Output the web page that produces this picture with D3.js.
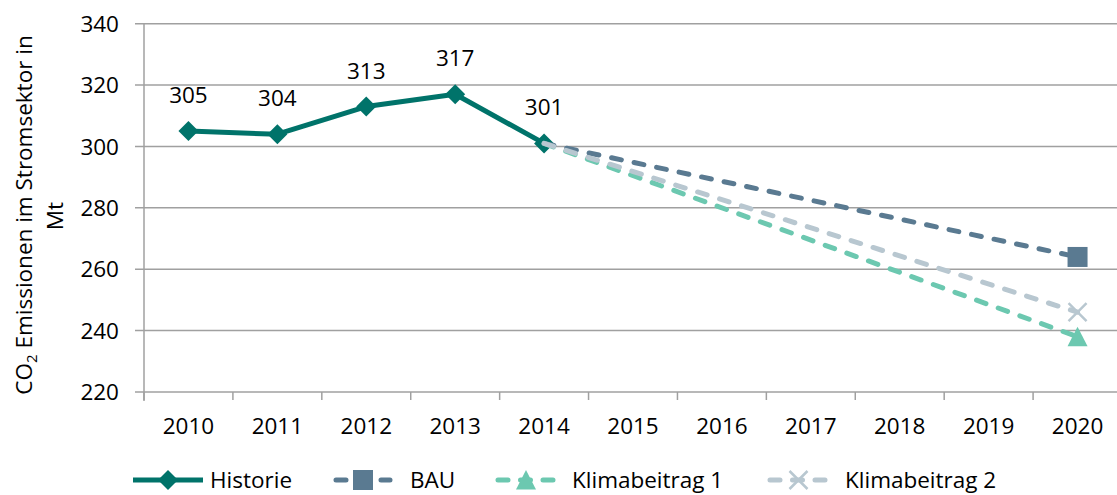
<!DOCTYPE html>
<html><head><meta charset="utf-8">
<script src="https://cdn.jsdelivr.net/npm/d3@7"></script>
<style>
body{margin:0;background:#fff;}
text{font-family:"Open Sans",Lato,sans-serif;fill:#000;}
</style></head>
<body><svg id="c" width="1117" height="495"></svg>
<script>
const years = ["2010","2011","2012","2013","2014","2015","2016","2017","2018","2019","2020"];
const historie = [305,304,313,317,301,null,null,null,null,null,null];
const bau = [null,null,null,null,301,null,null,null,null,null,264];
const klima1 = [null,null,null,null,301,null,null,null,null,null,238];
const klima2 = [null,null,null,null,301,null,null,null,null,null,246];
const yTicks = [220,240,260,280,300,320,340];
const seriesNames = ["Historie","BAU","Klimabeitrag 1","Klimabeitrag 2"];
const colors = ["#00736A","#5A7A91","#6CC8B0","#B8C7D0"];

const FS = 22.5;
const svg = d3.select("#c");
const x = d3.scaleBand().domain(years).range([144,1122]);
const y = d3.scaleLinear().domain([220,340]).range([392,23.7]);

// gridlines
svg.append("g").selectAll("line").data(yTicks).join("line")
  .attr("x1",135).attr("x2",1122).attr("y1",d=>y(d)).attr("y2",d=>y(d))
  .attr("stroke","#A0A0A0").attr("stroke-width",1.5);
// y axis line
svg.append("line").attr("x1",144).attr("x2",144).attr("y1",y(340)).attr("y2",y(220)+9)
  .attr("stroke","#A0A0A0").attr("stroke-width",1.5);
// x ticks
const xt = years.map(d=>x(d)).concat([x.range()[1]]);
svg.append("g").selectAll("line").data(xt).join("line")
  .attr("x1",d=>d).attr("x2",d=>d).attr("y1",y(220)).attr("y2",y(220)+8)
  .attr("stroke","#A0A0A0").attr("stroke-width",1.5);
// y tick labels
svg.append("g").selectAll("text").data(yTicks).join("text")
  .attr("x",119).attr("y",d=>y(d)).attr("dy","0.36em").attr("text-anchor","end")
  .attr("font-size",FS).text(d=>d);
// x labels
svg.append("g").selectAll("text").data(years).join("text")
  .attr("x",d=>x(d)+x.bandwidth()/2).attr("y",426).attr("dy","0.36em").attr("text-anchor","middle")
  .attr("font-size",FS).text(d=>d);
// y title
const yt = svg.append("text").attr("transform","translate(32,215) rotate(-90)").attr("text-anchor","middle").attr("font-size",22.5);
yt.append("tspan").text("CO");
yt.append("tspan").attr("font-size",15).attr("dy",5).text("2");
yt.append("tspan").attr("dy",-5).text(" Emissionen im Stromsektor in");
svg.append("text").attr("transform","translate(63,216) rotate(-90)").attr("text-anchor","middle").attr("font-size",22.5).text("Mt");

const cx = d=>x(d.year)+x.bandwidth()/2;
const lineGen = d3.line().x(cx).y(d=>y(d.v));
function pts(arr){return arr.map((v,i)=>({year:years[i],v})).filter(d=>d.v!==null);}

const all = [historie,bau,klima1,klima2];

function marker(g,type,px,py,color){
  if(type===0){
    const s=10;
    g.append("path").attr("d",`M${px},${py-s}L${px+s},${py}L${px},${py+s}L${px-s},${py}Z`).attr("fill",color);
  } else if(type===1){
    g.append("rect").attr("x",px-10).attr("y",py-10).attr("width",20).attr("height",20).attr("fill",color);
  } else if(type===2){
    g.append("path").attr("d",`M${px},${py-10}L${px+10},${py+9.5}L${px-10},${py+9.5}Z`).attr("fill",color);
  } else {
    g.append("path").attr("d",`M${px-9},${py-9}L${px+9},${py+9}M${px+9},${py-9}L${px-9},${py+9}`).attr("stroke",color).attr("stroke-width",2.5);
  }
}

all.forEach((arr,si)=>{
  const p = pts(arr);
  const g = svg.append("g");
  g.append("path").datum(p).attr("d",lineGen).attr("fill","none").attr("stroke",colors[si])
    .attr("stroke-width",5).attr("stroke-linecap",si===0?"butt":"round").attr("stroke-linejoin","round")
    .attr("stroke-dasharray",si===0?null:"10,13");
  const mp = si===0 ? p : p.filter(d=>d.year==="2020");
  mp.forEach(d=>marker(g,si,cx(d),y(d.v),colors[si]));
});

// data labels for Historie
svg.append("g").selectAll("text").data(pts(historie)).join("text")
  .attr("x",cx).attr("y",d=>y(d.v)-36).attr("dy","0.36em").attr("text-anchor","middle")
  .attr("font-size",FS).text(d=>d.v);

// legend
const leg = [
  {x1:133,x2:203,tx:210},
  {x1:333,x2:393,tx:410},
  {x1:495,x2:557,tx:572},
  {x1:767,x2:830,tx:845}
];
const ly = 480;
leg.forEach((l,i)=>{
  const g = svg.append("g");
  g.append("line").attr("x1",l.x1+(i?3:0)).attr("x2",l.x2-(i?3:0)).attr("y1",ly).attr("y2",ly)
    .attr("stroke",colors[i]).attr("stroke-width",5).attr("stroke-linecap",i?"round":"butt")
    .attr("stroke-dasharray",i?"10,12.5":null);
  marker(g,i,(l.x1+l.x2)/2,ly,colors[i]);
  g.append("text").attr("x",l.tx).attr("y",ly).attr("dy","0.34em").attr("font-size",22.5).text(seriesNames[i]);
});
</script></body></html>
